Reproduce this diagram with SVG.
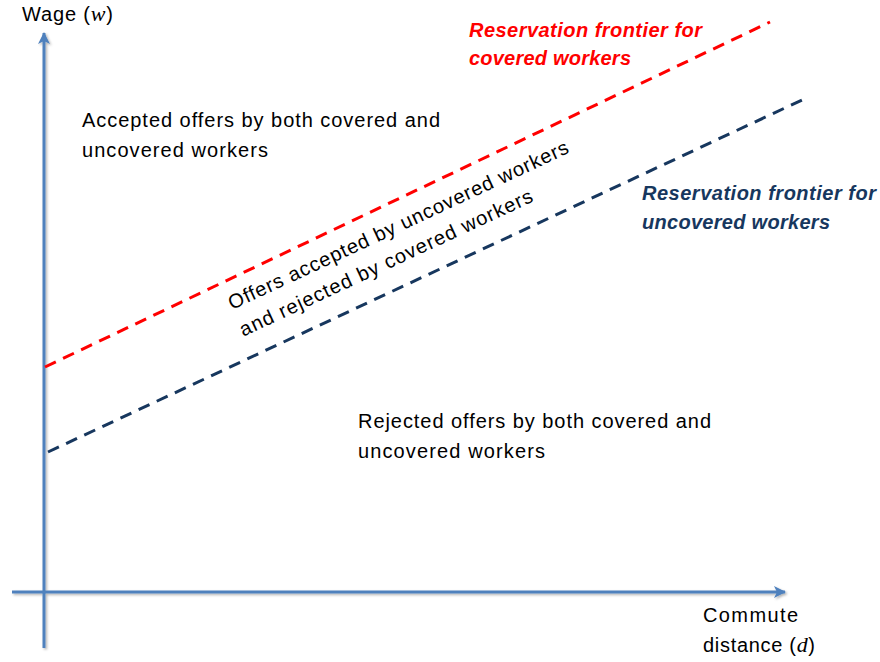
<svg xmlns="http://www.w3.org/2000/svg" width="880" height="662" viewBox="0 0 880 662">
<defs>
<marker id="arr" viewBox="0 0 12 12" refX="11" refY="6" markerWidth="12" markerHeight="12" markerUnits="userSpaceOnUse" orient="auto">
<path d="M0,0 L12,6 L0,12 L3,6 Z" fill="#4F81BD"/>
</marker>
<filter id="sh" x="-5%" y="-5%" width="110%" height="110%">
<feDropShadow dx="1.5" dy="1.5" stdDeviation="1" flood-color="#000" flood-opacity="0.3"/>
</filter>
</defs>
<style>
.t{font-family:"Liberation Sans",Arial,sans-serif;font-size:20px;fill:#000}
.m{font-family:"Liberation Serif","Times New Roman",serif;font-style:italic;font-size:22px}
.rl{font-family:"Liberation Sans",Arial,sans-serif;font-size:20px;font-weight:bold;font-style:italic}
.axis{stroke:#4F81BD;stroke-width:3;fill:none}
.dash{stroke-width:3;fill:none;stroke-dasharray:12 8}
</style>
<rect width="880" height="662" fill="#fff"/>
<g id="connectors">
<g id="axes" filter="url(#sh)">
<line class="axis" x1="44" y1="648" x2="44" y2="33" marker-end="url(#arr)"/>
<line class="axis" x1="12" y1="592" x2="785" y2="592" marker-end="url(#arr)"/>
</g>
<line id="red-frontier" class="dash" stroke="#FF0000" x1="45" y1="367" x2="770" y2="22"/>
<line id="navy-frontier" class="dash" stroke="#17375E" x1="48" y1="452" x2="802" y2="100"/>
</g>
<g id="y-label"><text class="t" x="22" y="21" textLength="91">Wage (<tspan class="m">w</tspan>)</text></g>
<g id="x-label">
<text class="t" x="703" y="622" textLength="95">Commute</text>
<text class="t" x="703" y="652" textLength="112">distance (<tspan class="m">d</tspan>)</text>
</g>
<g id="accepted">
<text class="t" x="82" y="127" textLength="358">Accepted offers by both covered and</text>
<text class="t" x="82" y="157" textLength="186">uncovered workers</text>
</g>
<g id="rejected">
<text class="t" x="358" y="428" textLength="353">Rejected offers by both covered and</text>
<text class="t" x="358" y="458" textLength="187">uncovered workers</text>
</g>
<g id="middle" transform="translate(232,310) rotate(-25)">
<text class="t" x="0" y="0" textLength="373">Offers accepted by uncovered workers</text>
<text class="t" x="-1" y="29" textLength="321">and rejected by covered workers</text>
</g>
<g id="red-label" fill="#FF0000">
<text class="rl" x="469" y="37" textLength="233">Reservation frontier for</text>
<text class="rl" x="469" y="65" textLength="162">covered workers</text>
</g>
<g id="navy-label" fill="#17375E">
<text class="rl" x="642" y="200" textLength="234">Reservation frontier for</text>
<text class="rl" x="642" y="229" textLength="188">uncovered workers</text>
</g>
</svg>
